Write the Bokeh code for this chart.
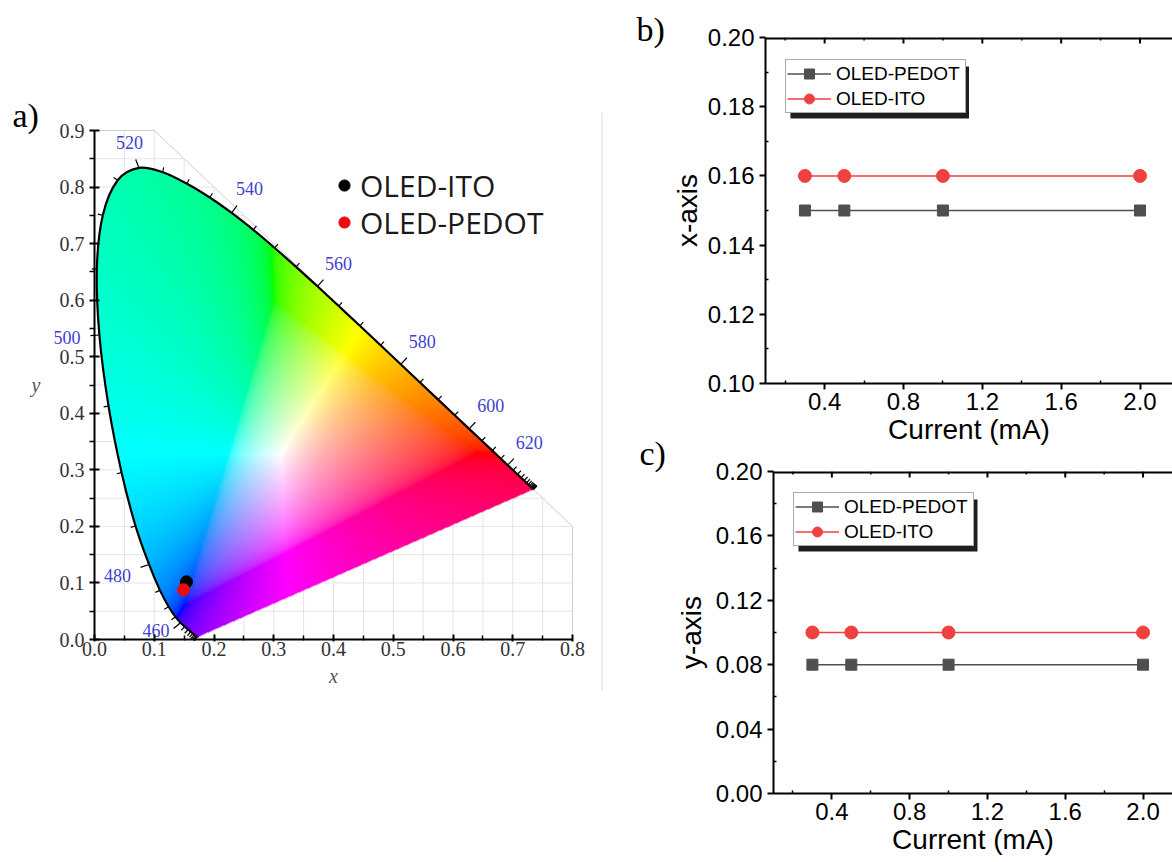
import numpy as np
from bokeh.plotting import figure
from bokeh.models import (Range1d, FixedTicker, PrintfTickFormatter,
                          Legend, LegendItem, Label, BoxAnnotation, ColumnDataSource)
from bokeh.layouts import row, column
from bokeh.embed import file_html
from bokeh.resources import INLINE
from bokeh.core.properties import value

# ------------------------------------------------------------------ data
# CIE 1931 2-degree spectral locus (chromaticity x, y) every 5 nm
wavelengths = [380, 385, 390, 395, 400, 405, 410, 415, 420, 425, 430, 435, 440, 445,
               450, 455, 460, 465, 470, 475, 480, 485, 490, 495, 500, 505, 510, 515,
               520, 525, 530, 535, 540, 545, 550, 555, 560, 565, 570, 575, 580, 585,
               590, 595, 600, 605, 610, 615, 620, 625, 630, 635, 640, 645, 650, 655,
               660, 665, 670, 675, 680, 685, 690, 695, 700]
locus_x = [0.1741, 0.1740, 0.1738, 0.1736, 0.1733, 0.1730, 0.1726, 0.1721, 0.1714, 0.1703,
           0.1689, 0.1669, 0.1644, 0.1611, 0.1566, 0.1510, 0.1440, 0.1355, 0.1241, 0.1096,
           0.0913, 0.0687, 0.0454, 0.0235, 0.0082, 0.0039, 0.0139, 0.0389, 0.0743, 0.1142,
           0.1547, 0.1929, 0.2296, 0.2658, 0.3016, 0.3373, 0.3731, 0.4087, 0.4441, 0.4788,
           0.5125, 0.5448, 0.5752, 0.6029, 0.6270, 0.6482, 0.6658, 0.6801, 0.6915, 0.7006,
           0.7079, 0.7140, 0.7190, 0.7230, 0.7260, 0.7283, 0.7300, 0.7311, 0.7320, 0.7327,
           0.7334, 0.7340, 0.7344, 0.7346, 0.7347]
locus_y = [0.0050, 0.0050, 0.0049, 0.0049, 0.0048, 0.0048, 0.0048, 0.0048, 0.0051, 0.0058,
           0.0069, 0.0086, 0.0109, 0.0138, 0.0177, 0.0227, 0.0297, 0.0399, 0.0578, 0.0868,
           0.1327, 0.2007, 0.2950, 0.4127, 0.5384, 0.6548, 0.7502, 0.8120, 0.8338, 0.8262,
           0.8059, 0.7816, 0.7543, 0.7243, 0.6923, 0.6589, 0.6245, 0.5896, 0.5547, 0.5202,
           0.4866, 0.4544, 0.4242, 0.3965, 0.3725, 0.3514, 0.3340, 0.3197, 0.3083, 0.2993,
           0.2920, 0.2859, 0.2809, 0.2770, 0.2740, 0.2717, 0.2700, 0.2689, 0.2680, 0.2673,
           0.2666, 0.2660, 0.2656, 0.2654, 0.2653]
label_wavelengths = [460, 480, 500, 520, 540, 560, 580, 600, 620]

cie_names = ["OLED-ITO", "OLED-PEDOT"]
cie_x = [0.154, 0.149]
cie_y = [0.102, 0.088]
cie_colors = ["#000000", "#ee0a0a"]
cie_ticks = [0.0, 0.1, 0.2, 0.3, 0.4, 0.5, 0.6, 0.7, 0.8, 0.9]
cie_minor = [0.05, 0.15, 0.25, 0.35, 0.45, 0.55, 0.65, 0.75, 0.85]

current_mA = [0.3, 0.5, 1.0, 2.0]
pedot_cie_x = [0.15, 0.15, 0.15, 0.15]
ito_cie_x = [0.16, 0.16, 0.16, 0.16]
pedot_cie_y = [0.08, 0.08, 0.08, 0.08]
ito_cie_y = [0.10, 0.10, 0.10, 0.10]
series_names = ["OLED-PEDOT", "OLED-ITO"]
current_ticks = [0.4, 0.8, 1.2, 1.6, 2.0]
current_minor = [0.2, 0.6, 1.0, 1.4, 1.8]
b_ticks = [0.10, 0.12, 0.14, 0.16, 0.18, 0.20]
b_minor = [0.11, 0.13, 0.15, 0.17, 0.19]
c_ticks = [0.00, 0.04, 0.08, 0.12, 0.16, 0.20]
c_minor = [0.02, 0.06, 0.10, 0.14, 0.18]

SERIF = "Liberation Serif"
SANS = "Liberation Sans"
GRAY = "#4f4f4f"
RED = "#f04040"

# ------------------------------------------------------------------ panel a
A_W, A_H = 600, 862
AX0, AX1, AY0, AY1 = 94, 572, 639, 130      # pixel positions of x=0, x=0.8, y=0, y=0.9
XMAX, YMAX = 0.8, 0.9
SX = (AX1 - AX0) / XMAX
SY = (AY0 - AY1) / YMAX


def ax_x(px):
    return (px - AX0) / SX


def ax_y(py):
    return (AY0 - py) / SY


pa = figure(width=A_W, height=A_H, x_range=Range1d(ax_x(0), ax_x(A_W)),
            y_range=Range1d(ax_y(A_H), ax_y(0)),
            min_border=0, min_border_left=0, min_border_right=0, min_border_top=0,
            min_border_bottom=0, output_backend="svg", toolbar_location=None,
            outline_line_color=None, background_fill_color="white", border_fill_color="white",
            frame_align=False)
pa.grid.visible = False

# light grid limited to the region x + y <= 1
grid_vals = sorted(cie_ticks + cie_minor)
gvx = np.array([v for v in grid_vals if 0 < v <= XMAX])
gvy = np.array([v for v in grid_vals if 0 < v <= YMAX])
pa.segment(x0=gvx, y0=np.zeros_like(gvx), x1=gvx, y1=np.minimum(YMAX, 1 - gvx),
           line_color="#e4e4e4", line_width=1)
pa.segment(x0=np.zeros_like(gvy), y0=gvy, x1=np.minimum(XMAX, 1 - gvy), y1=gvy,
           line_color="#e4e4e4", line_width=1)
pa.line([0, 1 - YMAX, XMAX, XMAX], [YMAX, YMAX, 1 - XMAX, 0], line_color="#cfcfcf", line_width=1)

# smooth outline of the locus: Catmull-Rom curve through the tabulated points
vx, vy = np.array(locus_x), np.array(locus_y)
n = len(vx)
i0 = np.arange(n - 1)
pm = np.clip(i0 - 1, 0, n - 1)
pp = np.clip(i0 + 2, 0, n - 1)
c0x = vx[i0] + (vx[i0 + 1] - vx[pm]) / 6
c0y = vy[i0] + (vy[i0 + 1] - vy[pm]) / 6
c1x = vx[i0 + 1] - (vx[pp] - vx[i0]) / 6
c1y = vy[i0 + 1] - (vy[pp] - vy[i0]) / 6
tt = np.linspace(0, 1, 9)[:-1][:, None]
bx = ((1 - tt) ** 3 * vx[i0] + 3 * (1 - tt) ** 2 * tt * c0x + 3 * (1 - tt) * tt ** 2 * c1x
      + tt ** 3 * vx[i0 + 1]).T.ravel()
by = ((1 - tt) ** 3 * vy[i0] + 3 * (1 - tt) ** 2 * tt * c0y + 3 * (1 - tt) * tt ** 2 * c1y
      + tt ** 3 * vy[i0 + 1]).T.ravel()
poly_x = np.append(bx, vx[-1])
poly_y = np.append(by, vy[-1])

# colour fill of the gamut (xy -> sRGB, desaturated into gamut), masked to the locus
nx, ny = AX1 - AX0, AY0 - AY1
gx = (np.arange(nx) + 0.5) / nx * XMAX
gy = (np.arange(ny) + 0.5) / ny * YMAX
GX, GY = np.meshgrid(gx, gy)
inside = np.zeros(GX.shape, dtype=bool)
j = len(poly_x) - 1
for i in range(len(poly_x)):
    xi, yi, xj, yj = poly_x[i], poly_y[i], poly_x[j], poly_y[j]
    if yi != yj:
        inside ^= ((yi > GY) != (yj > GY)) & (GX < (xj - xi) * (GY - yi) / (yj - yi) + xi)
    j = i
Yc = np.maximum(GY, 1e-6)
Xc = GX / Yc
Zc = (1 - GX - GY) / Yc
R = 3.2406 * Xc - 1.5372 - 0.4986 * Zc
G = -0.9689 * Xc + 1.8758 + 0.0415 * Zc
B = 0.0557 * Xc - 0.2040 + 1.0570 * Zc
rgb = np.stack([R, G, B], axis=-1)
rgb = rgb - np.minimum(rgb.min(axis=-1, keepdims=True), 0)
rgb = rgb / np.maximum(rgb.max(axis=-1, keepdims=True), 1e-9)
rgb = np.where(rgb <= 0.0031308, 12.92 * rgb, 1.055 * np.power(rgb, 1 / 2.4) - 0.055)
img = np.zeros((ny, nx, 4), dtype=np.uint8)
img[..., :3] = np.clip(rgb * 255 + 0.5, 0, 255).astype(np.uint8)
img[..., 3] = np.where(inside, 255, 0).astype(np.uint8)
img32 = img.view(np.uint32).reshape(ny, nx)
pa.image_rgba(image=[img32], x=0, y=0, dw=XMAX, dh=YMAX)

pa.bezier(x0=vx[i0], y0=vy[i0], x1=vx[i0 + 1], y1=vy[i0 + 1], cx0=c0x, cy0=c0y,
          cx1=c1x, cy1=c1y, line_color="black", line_width=2.2)

# wavelength tick marks (outward normals) and labels
wl = np.array(wavelengths)
PX, PY = vx * SX, vy * SY
ip = np.clip(np.arange(n) - 2, 0, n - 1)
inx = np.clip(np.arange(n) + 2, 0, n - 1)
TX, TY = PX[inx] - PX[ip], PY[inx] - PY[ip]
nrm = np.hypot(TX, TY)
TX, TY = TX / nrm, TY / nrm
NX, NY = TY.copy(), -TX.copy()
flip = (NX * (PX - 0.33 * SX) + NY * (PY - 0.33 * SY)) < 0
NX[flip] *= -1
NY[flip] *= -1
sel = wl >= 420
labeled = np.isin(wl, label_wavelengths)
tl = np.where(labeled, 9.0, 5.0)
pa.segment(x0=vx[sel], y0=vy[sel], x1=(vx + NX * tl / SX)[sel], y1=(vy + NY * tl / SY)[sel],
           line_color="black", line_width=1.2)
d = 14 + 18 * np.abs(NX) + 7 * np.abs(NY)
lab_x = (vx + NX * d / SX)[labeled]
lab_y = np.maximum((vy + NY * d / SY), 9 / SY)[labeled]
pa.text(x=lab_x, y=lab_y, text=[str(w) for w in wl[labeled]],
        text_font=value(SERIF), text_font_size="18px", text_color="#3f3fd0",
        text_align="center", text_baseline="middle")

src_cie = ColumnDataSource(dict(x=cie_x, y=cie_y, color=cie_colors, name=cie_names))
r_cie = pa.scatter("x", "y", source=src_cie, size=12, fill_color="color", line_color="color")

xa, ya = pa.xaxis[0], pa.yaxis[0]
for ax in (xa, ya):
    ax.fixed_location = 0
    ax.ticker = FixedTicker(ticks=cie_ticks, minor_ticks=cie_minor)
    ax.formatter = PrintfTickFormatter(format="%.1f")
    ax.axis_line_width = 2
    ax.axis_line_color = "black"
    ax.major_tick_line_width = 2
    ax.minor_tick_line_width = 1.5
    ax.major_label_text_font = SERIF
    ax.major_label_text_font_size = "20px"
    ax.major_label_text_color = "#333333"
    ax.axis_label_text_font = SERIF
    ax.axis_label_text_font_style = "italic"
    ax.axis_label_text_font_size = "20px"
    ax.axis_label_text_color = "#555555"
xa.bounds = (0, XMAX)
ya.bounds = (0, YMAX)
xa.major_tick_in, xa.major_tick_out = 5, 2
xa.minor_tick_in, xa.minor_tick_out = 4, 1
xa.major_label_standoff = 0
xa.axis_label = "x"
xa.axis_label_standoff = 6
ya.major_tick_in, ya.major_tick_out = 5, 5
ya.minor_tick_in, ya.minor_tick_out = 0, 5
ya.major_label_standoff = 5
ya.axis_label = "y"
ya.axis_label_orientation = "horizontal"
ya.axis_label_standoff = 16

# legend of panel a (two single-entry legends to control spacing)
for k, cy_px in enumerate([185, 222]):
    lg = Legend(items=[LegendItem(label=cie_names[k], renderers=[r_cie], index=k)],
                location=(330, A_H - (cy_px + 22)), glyph_width=28, glyph_height=44,
                label_height=44, label_standoff=2, padding=0, margin=0, spacing=0,
                border_line_color=None, background_fill_alpha=0,
                label_text_font="Open Sans", label_text_font_size="30px",
                label_text_color="#1a1a1a")
    pa.add_layout(lg)

pa.add_layout(Label(x=ax_x(12), y=ax_y(115), text="a)", text_font=SERIF,
                    text_font_size="34px", text_baseline="middle", text_align="left",
                    text_color="black"))

# ------------------------------------------------------------------ separator strip
SEP_W = 68
sep = figure(width=SEP_W, height=862, x_range=Range1d(0, SEP_W), y_range=Range1d(0, 862),
             min_border=0, min_border_left=0, min_border_right=0, min_border_top=0,
             min_border_bottom=0, x_axis_location=None, y_axis_location=None,
             outline_line_color=None, toolbar_location=None, output_backend="svg",
             background_fill_color="white", border_fill_color="white", frame_align=False)
sep.grid.visible = False
sep.segment(x0=[1.5], y0=[862 - 690], x1=[1.5], y1=[862 - 112], line_color="#dadada", line_width=1)
sep.add_layout(Label(x=36, y=862 - 29, text="b)", text_font=SERIF, text_font_size="34px",
                     text_baseline="middle", text_align="left", text_color="black"))
sep.add_layout(Label(x=39, y=862 - 453, text="c)", text_font=SERIF, text_font_size="34px",
                     text_baseline="middle", text_align="left", text_color="black"))


# ------------------------------------------------------------------ panels b, c
def panel(height, left, top, bottom, y_rng, y_major, y_minor, ylabel, yp, yi, ppu, leg_top,
          ylabel_standoff):
    width = 1172 - A_W - SEP_W
    frame_w = width - left
    frame_h = height - top - bottom
    x0 = 0.1
    x1 = x0 + frame_w / ppu
    ppy = frame_h / (y_rng[1] - y_rng[0])
    p = figure(width=width, height=height, x_range=Range1d(x0, x1), y_range=Range1d(*y_rng),
               min_border_left=left, min_border_right=0, min_border_top=top,
               min_border_bottom=bottom, output_backend="svg", toolbar_location=None,
               outline_line_color=None, background_fill_color="white", border_fill_color="white",
               frame_align=False)
    p.grid.visible = False

    # top frame edge with inward ticks (mirrors the bottom axis)
    p.segment(x0=[x0], y0=[y_rng[1]], x1=[x1], y1=[y_rng[1]], line_color="black", line_width=4)
    tx = np.array(current_ticks + current_minor)
    tlen = np.array([6.0] * len(current_ticks) + [3.0] * len(current_minor))
    p.segment(x0=tx, y0=np.full_like(tx, y_rng[1]), x1=tx, y1=y_rng[1] - tlen / ppy,
              line_color="black", line_width=np.where(tlen > 4, 2, 1.5))

    r_pl = p.line(current_mA, yp, line_color=GRAY, line_width=1.5)
    r_ps = p.scatter(current_mA, yp, marker="square", size=11, fill_color=GRAY, line_color=GRAY)
    r_il = p.line(current_mA, yi, line_color=RED, line_width=1.5)
    r_is = p.scatter(current_mA, yi, marker="circle", size=13, fill_color=RED, line_color=RED)

    xa_, ya_ = p.xaxis[0], p.yaxis[0]
    xa_.ticker = FixedTicker(ticks=current_ticks, minor_ticks=current_minor)
    xa_.formatter = PrintfTickFormatter(format="%.1f")
    ya_.ticker = FixedTicker(ticks=y_major, minor_ticks=y_minor)
    ya_.formatter = PrintfTickFormatter(format="%.2f")
    for ax in (xa_, ya_):
        ax.axis_line_width = 2
        ax.major_tick_line_width = 2
        ax.minor_tick_line_width = 1.5
        ax.major_tick_in, ax.major_tick_out = 0, 6
        ax.minor_tick_in, ax.minor_tick_out = 3, 0
        ax.major_label_text_font = SANS
        ax.major_label_text_font_size = "24px"
        ax.major_label_text_color = "black"
        ax.axis_label_text_font = SANS
        ax.axis_label_text_font_style = "normal"
        ax.axis_label_text_font_size = "28px"
        ax.axis_label_text_color = "black"
    xa_.axis_label = "Current (mA)"
    xa_.major_label_standoff = 3
    xa_.axis_label_standoff = 1
    ya_.axis_label = ylabel
    ya_.major_label_standoff = 5
    ya_.axis_label_standoff = ylabel_standoff

    # legend with drop shadow
    leg_w, leg_h, leg_dx = 179, 52, 20
    sh = 5

    def xd(px):
        return x0 + (px - left) / ppu

    def yd(py):
        return y_rng[1] - (py - top) / ppy

    p.add_layout(BoxAnnotation(left=xd(left + leg_dx + sh), right=xd(left + leg_dx + leg_w + sh),
                               top=yd(top + leg_top + sh), bottom=yd(top + leg_top + leg_h + sh),
                               fill_color="#1e1e1e", fill_alpha=1.0, line_color=None))
    lg = Legend(items=[LegendItem(label=series_names[0], renderers=[r_pl, r_ps]),
                       LegendItem(label=series_names[1], renderers=[r_il, r_is])],
                location=(leg_dx, frame_h - leg_top - leg_h), glyph_width=44, glyph_height=25,
                label_height=25, label_width=128, label_standoff=5, padding=1, spacing=0,
                margin=0, border_line_color="#555555", border_line_width=1,
                background_fill_color="white", background_fill_alpha=1.0,
                label_text_font=SANS, label_text_font_size="19px", label_text_color="black")
    p.add_layout(lg)
    return p


pb = panel(452, 96, 37, 69, (0.10, 0.20), b_ticks, b_minor, "x-axis",
           pedot_cie_x, ito_cie_x, 197.6, 24, 2)
pc = panel(410, 105, 19, 69, (0.00, 0.20), c_ticks, c_minor, "y-axis",
           pedot_cie_y, ito_cie_y, 194.5, 23, 6)

layout = row(pa, sep, column(pb, pc))
open("out.html", "w").write(file_html(layout, INLINE, title="CIE coordinates of OLEDs"))
